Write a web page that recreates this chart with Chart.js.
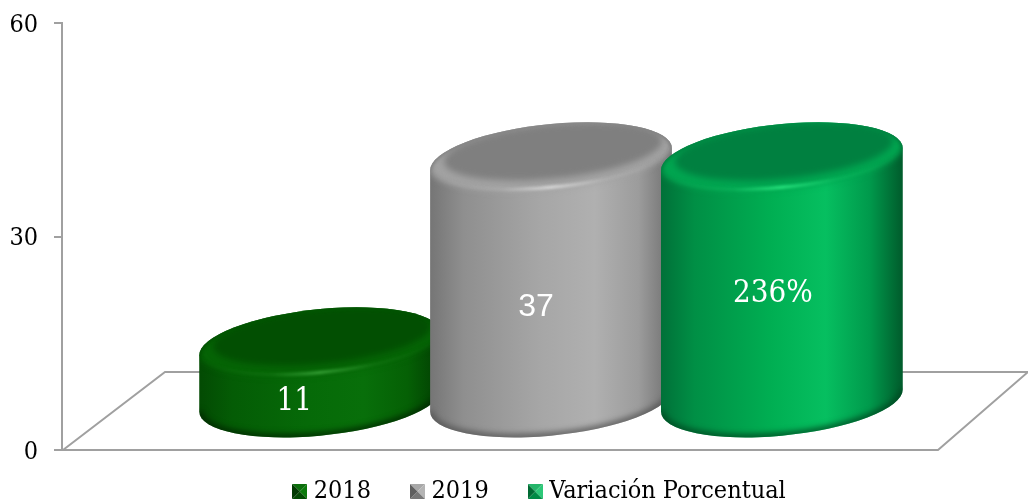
<!DOCTYPE html>
<html><head><meta charset="utf-8">
<style>html,body{margin:0;padding:0;background:#fff}#w{position:relative;width:1028px;height:502px}canvas{display:block}</style>
<script src="https://cdn.jsdelivr.net/npm/chart.js@4"></script>
</head><body><div id="w"><canvas id="c" width="1028" height="502"></canvas></div>
<script>
const categories = [""];
const seriesNames = ["2018", "2019", "Variación Porcentual"];
const values2018 = [11];
const values2019 = [37];
const valuesVariacion = [37];
const barLabels = ["11", "37", "236%"];
const yTicks = [0, 30, 60];

const SERIF = '"DejaVu Serif Condensed"';
const LINE = '#a0a0a0';
const palette = [
 {body:['#034a03','#045c05','#066a08','#086f0a','#056005','#023d02'],cap:'#024f02',rim:'#056405',hi:'#3aa53a',shadow:'#012801',sw:['#0b6e0b','#023a02','#0a7a0a','#014a01']},
 {body:['#757575','#8f8f8f','#a6a6a6','#b0b0b0','#9c9c9c','#6e6e6e'],cap:'#7f7f7f',rim:'#a2a2a2',hi:'#dedede',shadow:'#555555',sw:['#a8a8a8','#5f5f5f','#b4b4b4','#777777']},
 {body:['#007038','#008f45','#00ae52','#06bf60','#009a4c','#005a2b'],cap:'#008040',rim:'#00a550',hi:'#2be882',shadow:'#004a22',sw:['#25b56a','#006a33','#2cc878','#008a45']}
];
const labelStyle = [
 {dx:-26,y:402,font:'31px '+SERIF},
 {dx:-15,y:307,font:'32px "Liberation Sans"'},
 {dx:-9,y:294,font:'31px '+SERIF}
];

function swatch(c){
  const s=15,k=document.createElement('canvas');k.width=k.height=s;const g=k.getContext('2d');
  const m=s/2;
  [[0,0,s,0,c.sw[0]],[s,0,s,s,c.sw[2]],[s,s,0,s,c.sw[3]],[0,s,0,0,c.sw[1]]].forEach(t=>{
    g.fillStyle=t[4];g.beginPath();g.moveTo(t[0],t[1]);g.lineTo(t[2],t[3]);g.lineTo(m,m);g.closePath();g.fill();
  });
  return k;
}

const B=35,T=-0.1;
function ell(ctx,cx,cy,a,b){ctx.ellipse(cx,cy,a,b,T,0,Math.PI*2);}
function drawCyl(ctx,cx,topY,botY,hw,c){
  const a=hw,b=B;
  const t0=Math.atan2(-b*Math.sin(T),a*Math.cos(T));
  const pt=t=>[a*Math.cos(t)*Math.cos(T)-b*Math.sin(t)*Math.sin(T),a*Math.cos(t)*Math.sin(T)+b*Math.sin(t)*Math.cos(T)];
  const R=pt(t0);
  const body=()=>{ctx.beginPath();
    ctx.ellipse(cx,topY,a,b,T,t0+Math.PI,t0+2*Math.PI);
    ctx.lineTo(cx+R[0],botY+R[1]);
    ctx.ellipse(cx,botY,a,b,T,t0,t0+Math.PI);
    ctx.closePath();};
  const g=ctx.createLinearGradient(cx-a,0,cx+a,0);
  [0,.14,.45,.68,.86,1].forEach((p,i)=>g.addColorStop(p,c.body[i]));
  ctx.save();
  body();ctx.fillStyle=g;ctx.fill();
  body();ctx.clip();
  ctx.save();ctx.filter='blur(3px)';ctx.strokeStyle=c.shadow;ctx.lineWidth=6;
  ctx.beginPath();ctx.ellipse(cx,botY,a,b,T,t0,t0+Math.PI);ctx.stroke();ctx.restore();
  ctx.save();ctx.filter='blur(3px)';ctx.fillStyle=c.rim;ctx.beginPath();ell(ctx,cx,topY-2,a,b-3);ctx.fill();ctx.restore();
  ctx.save();
  const hg=ctx.createLinearGradient(cx-a,0,cx+a,0);
  hg.addColorStop(0,c.hi+'00');hg.addColorStop(.3,c.hi+'30');hg.addColorStop(.5,c.hi);hg.addColorStop(.72,c.hi+'30');hg.addColorStop(1,c.hi+'00');
  ctx.filter='blur(1.5px)';ctx.strokeStyle=hg;ctx.lineWidth=3;
  ctx.beginPath();ctx.ellipse(cx,topY-3,a,b-4,T,t0,t0+Math.PI);ctx.stroke();ctx.restore();
  ctx.save();ctx.filter='blur(3px)';ctx.fillStyle=c.cap;ctx.beginPath();ell(ctx,cx+2,topY-8,a-12,b-8);ctx.fill();ctx.restore();
  ctx.save();ctx.filter='blur(1.5px)';ctx.strokeStyle=c.cap;ctx.globalAlpha=.7;ctx.lineWidth=3;ctx.beginPath();ctx.ellipse(cx,topY,a,b,T,t0+Math.PI,t0+2*Math.PI);ctx.stroke();ctx.restore();
  ctx.restore();
}

const cylinders={id:'cylinders',
  beforeLayout(chart){
    const lg=chart.legend;
    if(lg&&!lg._wrapped){
      lg._wrapped=true;
      const f=lg.fit;
      lg.fit=function(){f.call(this);this.height=52;};
      lg.draw=function(){const x=this.ctx;x.save();x.translate(28,-16);this._draw();x.restore();};
    }
  },
  beforeDatasetDraw(){return false;},
  beforeDatasetsDraw(chart){
    const ctx=chart.ctx,ar=chart.chartArea,l=ar.left,b=ar.bottom,r=ar.right;
    ctx.save();ctx.strokeStyle=LINE;ctx.lineWidth=2;ctx.beginPath();
    ctx.moveTo(l+1,b);ctx.lineTo(l+103,b-78);ctx.lineTo(r,b-78);
    ctx.moveTo(l-7,b);ctx.lineTo(r-90,b);ctx.lineTo(r,b-78);
    ctx.stroke();ctx.restore();
  },
  afterDatasetsDraw(chart){
    const ctx=chart.ctx;
    chart.data.datasets.forEach((d,i)=>{
      const e=chart.getDatasetMeta(i).data[0];
      drawCyl(ctx,e.x+6,e.y-27.5,e.base-48.5,e.width/2+6,palette[i]);
    });
    chart.data.datasets.forEach((d,i)=>{
      const e=chart.getDatasetMeta(i).data[0],s=labelStyle[i];
      ctx.save();ctx.fillStyle='#fff';ctx.font=s.font;ctx.textAlign='center';ctx.textBaseline='middle';
      ctx.fillText(barLabels[i],e.x+6+s.dx,s.y);ctx.restore();
    });
  }
};

new Chart(document.getElementById('c'),{
  type:'bar',
  plugins:[cylinders],
  data:{labels:categories,datasets:[
    {label:seriesNames[0],data:values2018,backgroundColor:'#056005'},
    {label:seriesNames[1],data:values2019,backgroundColor:'#a5a5a5'},
    {label:seriesNames[2],data:valuesVariacion,backgroundColor:'#00ae52'}
  ]},
  options:{
    responsive:false,animation:false,
    layout:{autoPadding:false,padding:{left:0,right:0,top:23,bottom:0}},
    datasets:{bar:{barPercentage:1,categoryPercentage:0.717}},
    plugins:{
      tooltip:{enabled:false},
      legend:{position:'bottom',labels:{
        color:'#000',font:{family:SERIF,size:25},usePointStyle:true,pointStyleWidth:3,padding:45,boxHeight:15,
        generateLabels(chart){return chart.data.datasets.map((d,i)=>({text:d.label,datasetIndex:i,pointStyle:swatch(palette[i]),fontColor:'#000',lineWidth:0,strokeStyle:'transparent',fillStyle:d.backgroundColor}));}
      }}
    },
    scales:{
      x:{display:false},
      y:{min:0,max:60,afterBuildTicks(s){s.ticks=yTicks.map(v=>({value:v}));},
        afterFit(s){s.width=62;s.paddingTop=0;s.paddingBottom=0;},
        grid:{drawOnChartArea:false,drawTicks:true,tickLength:8,color:LINE,lineWidth:2},
        border:{color:LINE,width:2},
        ticks:{color:'#000',padding:16,labelOffset:2,font:{family:SERIF,size:25},callback:v=>String(v)}
      }
    }
  }
});
</script></body></html>
